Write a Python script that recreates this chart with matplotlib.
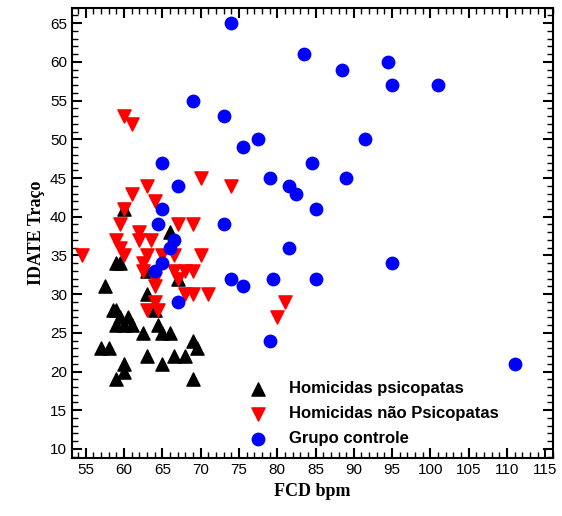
import matplotlib
matplotlib.use("Agg")
import matplotlib.pyplot as plt
from matplotlib.ticker import MultipleLocator

# Homicidas psicopatas
psi_x = [57.5, 58.5, 59, 59.5, 59, 58, 57, 59, 60, 60.5, 59.5, 61, 60, 60, 59, 60,
         62.5, 63, 63, 63, 64.5, 65, 66, 66.5, 65, 66, 67, 68, 69, 69.5, 69, 64]
psi_y = [31, 28, 34, 34, 28, 23, 23, 26, 26, 27, 27, 26, 21, 20, 19, 41,
         25, 30, 33, 22, 26, 25, 25, 22, 21, 38, 32, 22, 24, 23, 19, 28]

# Homicidas nao psicopatas
npsi_x = [54.5, 60, 61, 60, 61, 59.5, 59, 59.5, 60, 62, 62, 62.5, 63, 64, 63.5, 63,
          62.5, 63, 64, 64, 64, 65, 66.5, 66.5, 67, 68, 69, 69, 70, 70, 69, 71,
          68, 67, 74, 81, 80, 64.5]
npsi_y = [35, 53, 52, 41, 43, 39, 37, 36, 35, 38, 37, 34, 44, 42, 37, 35,
          33, 28, 29, 32, 31, 35, 35, 33, 39, 33, 39, 33, 35, 45, 30, 30,
          30, 32, 44, 29, 27, 28]

# Grupo controle
ctl_x = [74, 83.5, 88.5, 94.5, 95, 101, 69, 73, 77.5, 91.5, 75.5, 65, 84.5, 67, 79,
         81.5, 82.5, 89, 65, 85, 64.5, 73, 66, 81.5, 65, 64, 67, 74, 75.5, 79.5,
         85, 95, 79, 111, 66.5]
ctl_y = [65, 61, 59, 60, 57, 57, 55, 53, 50, 50, 49, 47, 47, 44, 45,
         44, 43, 45, 41, 41, 39, 39, 36, 36, 34, 33, 29, 32, 31, 32,
         32, 34, 24, 21, 37]

plt.rcParams['font.family'] = ['Liberation Sans', 'DejaVu Sans']
fig, ax = plt.subplots(figsize=(5.62, 5.16), dpi=100)
ax.scatter(psi_x, psi_y, marker='^', s=90, color='black', label='Homicidas psicopatas', zorder=3)
ax.scatter(npsi_x, npsi_y, marker='v', s=90, color='red', label='Homicidas não Psicopatas', zorder=3)
ax.scatter(ctl_x, ctl_y, marker='o', s=80, color='blue', label='Grupo controle', zorder=3)

ax.set_xlim(53.2, 116)
ax.set_ylim(8.8, 67)
ax.xaxis.set_major_locator(MultipleLocator(5))
ax.xaxis.set_minor_locator(MultipleLocator(1))
ax.yaxis.set_major_locator(MultipleLocator(5))
ax.yaxis.set_minor_locator(MultipleLocator(1))
ax.tick_params(which='both', direction='in', top=True, right=True, labelsize=11)
ax.tick_params(which='major', length=7, width=1.5)
ax.tick_params(which='minor', length=4, width=1)
for s in ax.spines.values():
    s.set_linewidth(1.5)

ax.set_xlabel('FCD bpm', fontsize=13, fontweight='bold', family='Liberation Serif')
ax.set_ylabel('IDATE Traço', fontsize=13, fontweight='bold', family='Liberation Serif')
ax.legend(loc='lower left', bbox_to_anchor=(0.317, -0.01), frameon=False,
          prop={'weight': 'bold', 'size': 12},
          handletextpad=0.9, labelspacing=0.6, borderaxespad=0.6)

plt.subplots_adjust(left=0.128, right=0.984, top=0.985, bottom=0.112)
plt.savefig('out.png')
